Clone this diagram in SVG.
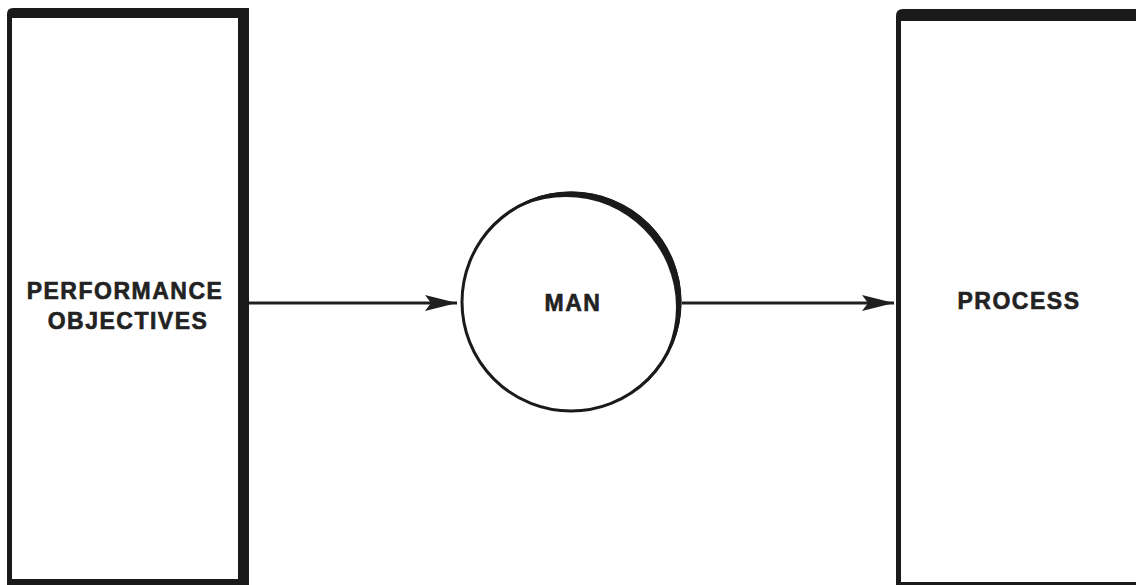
<svg xmlns="http://www.w3.org/2000/svg" width="1136" height="585" viewBox="0 0 1136 585">
<defs>
<style>
.lbl{font-family:"Liberation Sans",Arial,sans-serif;font-weight:bold;font-size:23px;fill:#222222;stroke:#222222;stroke-width:0.6px;letter-spacing:1.5px;text-anchor:middle}
.frame{fill:#1a1a1a}
.inner{fill:#ffffff}
.conn{stroke:#1f1f1f;stroke-width:3;fill:none}
.head{fill:#1f1f1f}
</style>
<marker id="ah" markerUnits="userSpaceOnUse" markerWidth="34" markerHeight="20" refX="32" refY="10" orient="auto">
<path class="head" d="M0,2 L32,10 L0,18 L6,10 Z"/>
</marker>
</defs>
<rect width="1136" height="585" fill="#ffffff"/>
<g id="node-performance">
<path class="frame" d="M13,8 L249,8 L249,585 L7,585 L7,14 Q7,8 13,8 Z"/>
<rect class="inner" x="12" y="18" width="226" height="561"/>
<text class="lbl" x="125" y="299">PERFORMANCE</text>
<text class="lbl" x="128" y="329">OBJECTIVES</text>
</g>
<g id="node-man">
<circle cx="571" cy="302" r="110.5" fill="#1a1a1a"/>
<circle cx="566" cy="307" r="110" fill="#ffffff"/>
<circle cx="571" cy="302" r="109" fill="none" stroke="#1a1a1a" stroke-width="3"/>
<text class="lbl" x="573" y="311">MAN</text>
</g>
<g id="node-process">
<path class="frame" d="M903,9 L1136,9 L1136,585 L896,585 L896,16 Q896,9 903,9 Z"/>
<rect class="inner" x="901" y="21" width="235" height="561"/>
<text class="lbl" x="1019" y="309">PROCESS</text>
</g>
<g id="connectors">
<line class="conn" x1="249" y1="303" x2="457" y2="303" marker-end="url(#ah)"/>
<line class="conn" x1="682" y1="303" x2="894" y2="303" marker-end="url(#ah)"/>
</g>
</svg>
